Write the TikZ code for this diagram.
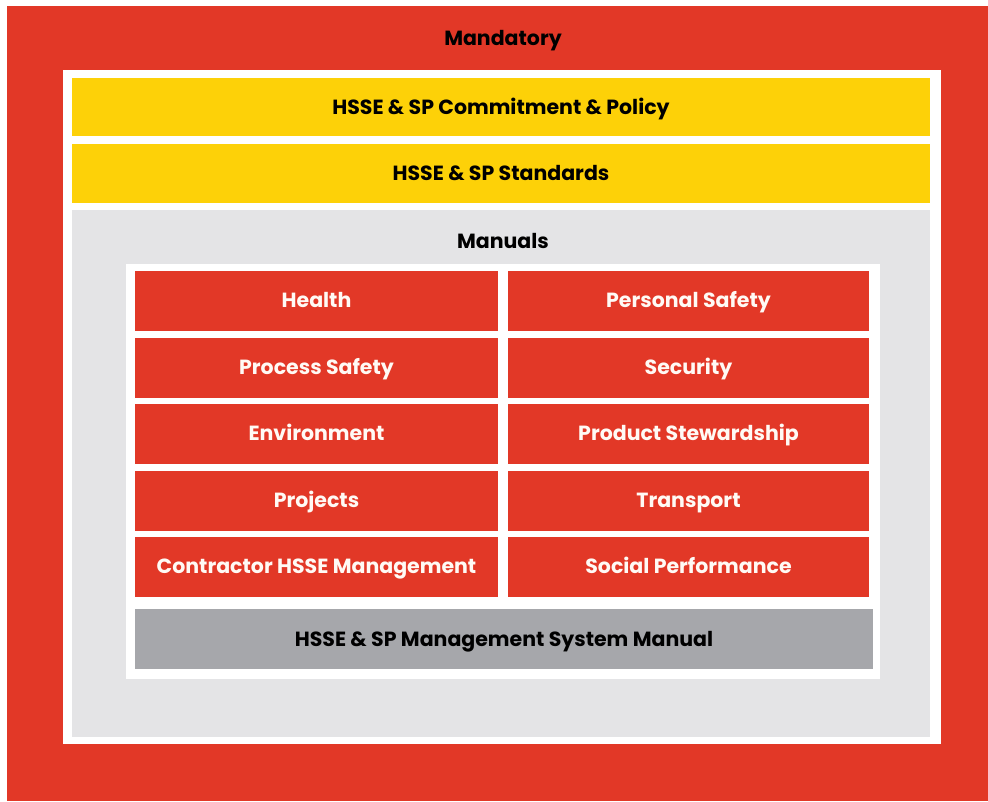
\documentclass[tikz,border=0pt]{standalone}
\usepackage{fontspec}
\setmainfont{Poppins}
\definecolor{shellred}{RGB}{226,56,39}
\definecolor{shellyellow}{RGB}{253,209,8}
\definecolor{panelgray}{RGB}{228,228,230}
\definecolor{basegray}{RGB}{166,167,171}
\definecolor{celltext}{RGB}{255,250,245}
\begin{document}
\begin{tikzpicture}[x=1pt,y=-1pt,
  panel/.style={inner sep=0pt, outer sep=0pt, draw=none, anchor=center},
  lbl/.style={inner sep=0pt, font=\fontsize{20.5}{22}\selectfont\bfseries, text height=14.3pt, text depth=0pt},
  darklbl/.style={lbl, text=black},
  lightlbl/.style={lbl, text=celltext},
  cell/.style={panel, fill=shellred, minimum height=59.5pt},
  leftcell/.style={cell, minimum width=363pt},
  rightcell/.style={cell, minimum width=361pt}]
  \useasboundingbox (0,0) rectangle (988,801);
  % outer mandatory frame
  \node[panel, fill=shellred, minimum width=981pt, minimum height=795pt] (mandatory) at (497.5,403.5) {};
  \node[panel, fill=white, minimum width=878pt, minimum height=674pt] (frame) at (502,407) {};
  \node[darklbl] (mandatorytext) at (503,38) {Mandatory};
  % policy and standards bands
  \node[panel, fill=shellyellow, minimum width=858pt, minimum height=58pt] (policy) at (501,107) {};
  \node[darklbl] at (policy.center) {HSSE \& SP Commitment \& Policy};
  \node[panel, fill=shellyellow, minimum width=858pt, minimum height=59pt] (standards) at (501,173.5) {};
  \node[darklbl] at (standards.center) {HSSE \& SP Standards};
  % manuals area
  \node[panel, fill=panelgray, minimum width=858pt, minimum height=527pt] (manuals) at (501,473.5) {};
  \node[darklbl] (manualstext) at (503,241) {Manuals};
  \node[panel, fill=white, minimum width=754pt, minimum height=415pt] (manualgrid) at (503,471.5) {};
  % manual cells
  \node[leftcell]  (health)      at (316.5,300.75) {};
  \node[rightcell] (personal)    at (688.5,300.75) {};
  \node[leftcell]  (process)     at (316.5,367.75) {};
  \node[rightcell] (security)    at (688.5,367.75) {};
  \node[leftcell]  (environment) at (316.5,433.75) {};
  \node[rightcell] (product)     at (688.5,433.75) {};
  \node[leftcell]  (projects)    at (316.5,500.75) {};
  \node[rightcell] (transport)   at (688.5,500.75) {};
  \node[leftcell]  (contractor)  at (316.5,566.75) {};
  \node[rightcell] (social)      at (688.5,566.75) {};
  \node[lightlbl] at (health.center) {Health};
  \node[lightlbl] at (personal.center) {Personal Safety};
  \node[lightlbl] at (process.center) {Process Safety};
  \node[lightlbl] at (security.center) {Security};
  \node[lightlbl] at (environment.center) {Environment};
  \node[lightlbl] at (product.center) {Product Stewardship};
  \node[lightlbl] at (projects.center) {Projects};
  \node[lightlbl] at (transport.center) {Transport};
  \node[lightlbl] at (contractor.center) {Contractor HSSE Management};
  \node[lightlbl] at (social.center) {Social Performance};
  % management system manual
  \node[panel, fill=basegray, minimum width=738pt, minimum height=60pt] (msmanual) at (504,639) {};
  \node[darklbl] at (msmanual.center) {HSSE \& SP Management System Manual};
\end{tikzpicture}
\end{document}
